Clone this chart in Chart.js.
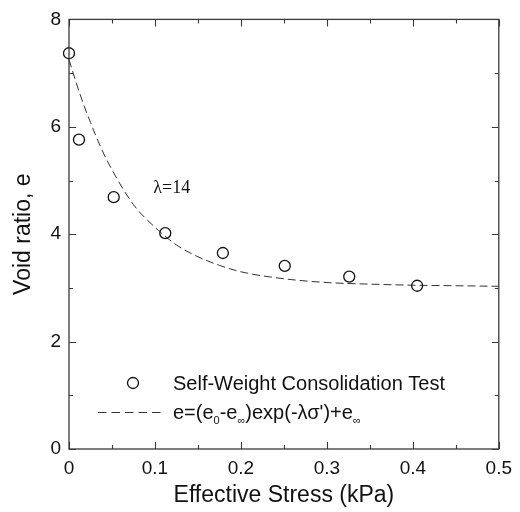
<!DOCTYPE html>
<html>
<head>
<meta charset="utf-8">
<script src="https://cdn.jsdelivr.net/npm/chart.js@4/dist/chart.umd.min.js"></script>
<style>
  html, body { margin: 0; padding: 0; background: #fff; }
  #wrap { width: 520px; height: 512px; }
</style>
</head>
<body>
<div id="wrap"><canvas id="c" width="520" height="512"></canvas></div>
<script>
// Measured test points
const testStress = [0, 0.0116, 0.052, 0.112, 0.179, 0.251, 0.326, 0.405];
const testVoid   = [7.37, 5.76, 4.69, 4.02, 3.65, 3.41, 3.21, 3.04];

// Fitted curve
const fitStress = [0, 0.0125, 0.025, 0.0375, 0.05, 0.075, 0.1, 0.125, 0.15, 0.175, 0.2, 0.25, 0.3, 0.35, 0.4, 0.45, 0.5];
const fitVoid   = [7.25, 6.62, 6.08, 5.6, 5.2, 4.55, 4.13, 3.8, 3.58, 3.42, 3.3, 3.17, 3.1, 3.07, 3.05, 3.04, 3.03];

const xTicks = [0, 0.1, 0.2, 0.3, 0.4, 0.5];
const xMinor = [0.05, 0.15, 0.25, 0.35, 0.45];
const yTicks = [0, 2, 4, 6, 8];
const yMinor = [1, 3, 5, 7];

const legendLabel1 = 'Self-Weight Consolidation Test';
const annotationText = 'λ=14';
const annotationAt = { x: 0.1195, y: 4.85 };

const SANS = '"Liberation Sans", Arial, sans-serif';
const SERIF = '"Liberation Serif", "Times New Roman", serif';
const AXIS = '#3a3a3a';

const frame = {
  id: 'frame',
  afterDatasetsDraw(chart) {
    const { ctx, chartArea: a, scales } = chart;
    const xs = scales.x, ys = scales.y;
    ctx.save();
    ctx.strokeStyle = AXIS;
    ctx.lineWidth = 1.3;
    ctx.strokeRect(a.left, a.top, a.right - a.left, a.bottom - a.top);
    ctx.lineWidth = 1.1;
    ctx.beginPath();
    const tick = (vals, len) => {
      vals.forEach(v => {
        const px = Math.round(xs.getPixelForValue(v)) + 0.5;
        ctx.moveTo(px, a.bottom); ctx.lineTo(px, a.bottom - len);
        ctx.moveTo(px, a.top); ctx.lineTo(px, a.top + len);
      });
    };
    const ytick = (vals, len) => {
      vals.forEach(v => {
        const py = Math.round(ys.getPixelForValue(v)) + 0.5;
        ctx.moveTo(a.left, py); ctx.lineTo(a.left + len, py);
        ctx.moveTo(a.right, py); ctx.lineTo(a.right - len, py);
      });
    };
    tick(xTicks, 7); tick(xMinor, 4);
    ytick(yTicks, 7); ytick(yMinor, 4);
    ctx.stroke();

    // annotation
    ctx.fillStyle = '#111';
    ctx.font = '18px ' + SERIF;
    ctx.textAlign = 'center';
    ctx.textBaseline = 'middle';
    ctx.fillText(annotationText, xs.getPixelForValue(annotationAt.x), ys.getPixelForValue(annotationAt.y));

    // legend
    ctx.textAlign = 'left';
    ctx.strokeStyle = '#111';
    ctx.lineWidth = 1.3;
    ctx.beginPath();
    ctx.arc(133, 383, 5.5, 0, Math.PI * 2);
    ctx.stroke();
    ctx.font = '20px ' + SANS;
    ctx.fillText(legendLabel1, 173, 384);

    ctx.lineWidth = 1;
    ctx.strokeStyle = '#333';
    ctx.setLineDash([8.5, 5]);
    ctx.beginPath();
    ctx.moveTo(98, 412.5); ctx.lineTo(165, 412.5);
    ctx.stroke();
    ctx.setLineDash([]);

    const parts = [['e=(e', 0], ['0', 1], ['-e', 0], ['∞', 1], [')exp(-λσ\')+e', 0], ['∞', 1]];
    let x = 173;
    parts.forEach(([t, sub]) => {
      ctx.font = (sub ? '11px ' : '20px ') + SANS;
      ctx.textBaseline = 'alphabetic';
      ctx.fillText(t, x, sub ? 424 : 419);
      x += ctx.measureText(t).width;
    });
    ctx.restore();
  }
};

new Chart(document.getElementById('c'), {
  type: 'scatter',
  data: {
    datasets: [
      {
        label: 'Self-Weight Consolidation Test',
        data: testStress.map((s, i) => ({ x: s, y: testVoid[i] })),
        pointStyle: 'circle',
        pointRadius: 5.5,
        pointBorderWidth: 1.3,
        pointBorderColor: '#111',
        pointBackgroundColor: 'rgba(255,255,255,0)',
        showLine: false,
        clip: false,
        order: 1
      },
      {
        label: 'fit',
        data: fitStress.map((s, i) => ({ x: s, y: fitVoid[i] })),
        showLine: true,
        borderColor: '#333',
        borderWidth: 1,
        borderDash: [8, 4],
        pointRadius: 0,
        cubicInterpolationMode: 'monotone',
        fill: false,
        order: 2
      }
    ]
  },
  options: {
    responsive: false,
    animation: false,
    devicePixelRatio: 1,
    layout: { padding: { top: 18, right: 18, left: 0, bottom: 0 } },
    plugins: { legend: { display: false }, tooltip: { enabled: false } },
    scales: {
      x: {
        type: 'linear',
        min: 0, max: 0.5,
        afterBuildTicks: s => { s.ticks = xTicks.map(v => ({ value: v })); },
        afterFit: s => { s.height = 63; },
        grid: { display: false, drawTicks: false },
        border: { display: false },
        ticks: {
          padding: 8,
          color: '#111',
          font: { family: SANS, size: 19 },
          callback: v => String(v)
        },
        title: {
          display: true,
          text: 'Effective Stress (kPa)',
          color: '#111',
          font: { family: SANS, size: 23 },
          padding: { top: 0, bottom: 3 }
        }
      },
      y: {
        type: 'linear',
        min: 0, max: 8,
        afterBuildTicks: s => { s.ticks = yTicks.map(v => ({ value: v })); },
        afterFit: s => { s.width = 69; },
        grid: { display: false, drawTicks: false },
        border: { display: false },
        ticks: {
          padding: 8,
          color: '#111',
          font: { family: SANS, size: 19 },
          callback: v => String(v)
        },
        title: {
          display: true,
          text: 'Void ratio, e',
          color: '#111',
          font: { family: SANS, size: 23 },
          padding: { top: 10, bottom: 0 }
        }
      }
    }
  },
  plugins: [frame]
});
</script>
</body>
</html>
